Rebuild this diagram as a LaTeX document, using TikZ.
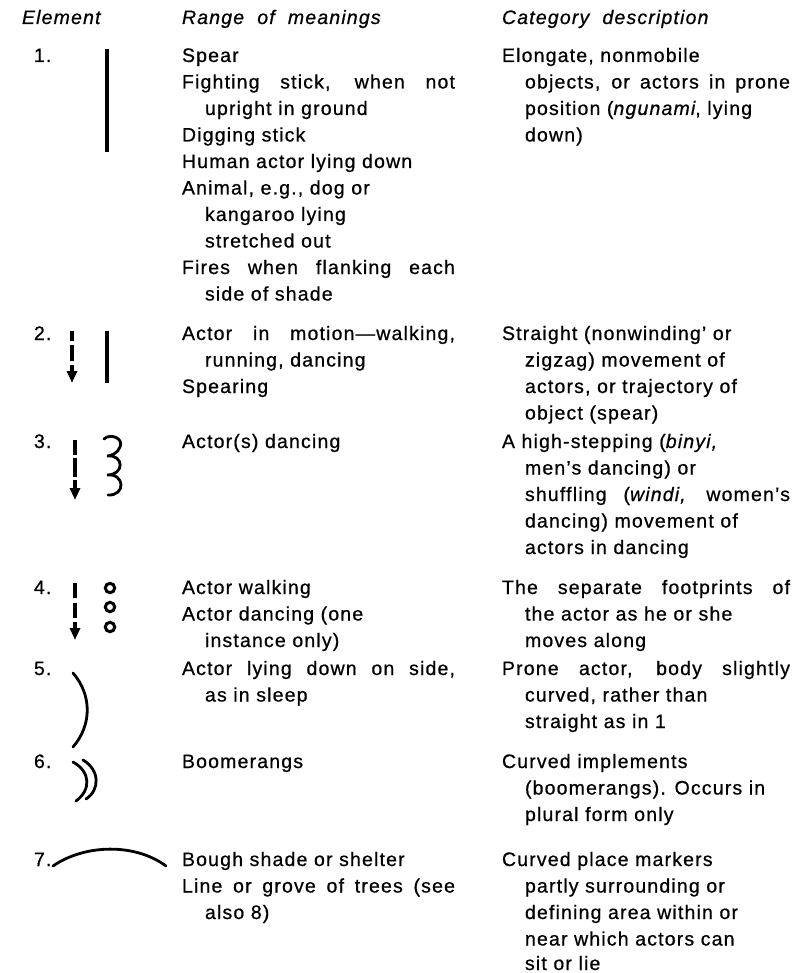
\documentclass[tikz,border=0pt]{standalone}
\usepackage{fontspec}
\setmainfont{Liberation Sans}[LetterSpace=6, FakeBold=0.7]
\usetikzlibrary{arrows.meta}
\newcommand{\justline}[2]{\makebox[#1pt][s]{#2}}
\tikzset{
  txt/.style={anchor=base west, inner sep=0pt, outer sep=0pt, font=\fontsize{19.5}{26.5}\selectfont},
  hdr/.style={txt, font=\fontsize{19.5}{26.5}\selectfont\itshape},
  bar/.style={line width=3.4pt},
  dashar/.style={line width=3.2pt, -{Triangle[width=10pt,length=12pt]}},
  curve/.style={line width=2.8pt, line cap=round},
  ring/.style={circle, draw, line width=3pt, minimum size=9.4pt, inner sep=0pt},
}
\begin{document}
\begin{tikzpicture}[x=1pt,y=-1pt]
\useasboundingbox (0,0) rectangle (805,973);
% headers
\node[hdr] (h1) at (22,24) {Element};
\node[hdr] (h2) at (182,24) {Range \ of \ meanings};
\node[hdr] (h3) at (502,24) {Category \ description};
% numbers
\node[txt] (n1) at (34,62) {1.};
\node[txt] (n2) at (34,340) {2.};
\node[txt] (n3) at (34,448) {3.};
\node[txt] (n4) at (34,594) {4.};
\node[txt] (n5) at (34,675) {5.};
\node[txt] (n6) at (34,768) {6.};
\node[txt] (n7) at (34,866) {7.};
% symbols
\coordinate (b1s) at (107,49); \coordinate (b1e) at (107,152);
\draw[bar] (b1s) -- (b1e);
\coordinate (a2s) at (72,331); \coordinate (a2e) at (72,383);
\draw[dashar, dash pattern=on 10pt off 4pt on 16pt off 4pt] (a2s) -- (a2e);
\coordinate (b2s) at (107,331); \coordinate (b2e) at (107,383);
\draw[bar] (b2s) -- (b2e);
\coordinate (a3s) at (75,440); \coordinate (a3e) at (75,500);
\draw[dashar, dash pattern=on 15pt off 3pt on 19pt off 3pt] (a3s) -- (a3e);
\draw[curve] (104,439) .. controls (110,433) and (124,438) .. (120,447)
  .. controls (118,453) and (111,456) .. (107,456)
  .. controls (124,454) and (125,475) .. (107,475)
  .. controls (125,473) and (126,496) .. (108,495);
\coordinate (a4s) at (75,583); \coordinate (a4e) at (75,640);
\draw[dashar, dash pattern=on 15pt off 5pt on 15pt off 4pt] (a4s) -- (a4e);
\node[ring] (c1) at (110,588) {};
\node[ring] (c2) at (110,607) {};
\node[ring] (c3) at (110,627) {};
\draw[curve] (73,673) .. controls (92,695) and (92,725) .. (73,747);
\draw[curve] (73,762) .. controls (91,772) and (91,790) .. (76,801);
\draw[curve] (83,760) .. controls (100,770) and (100,790) .. (86,799);
\draw[curve] (53,866) .. controls (85,844) and (135,843) .. (166,866);
% row 1
\node[txt] (m1a) at (182,62) {Spear};
\node[txt] (m1b) at (182,88.5) {\justline{273}{Fighting stick, when not}};
\node[txt] (m1c) at (205,115) {upright in ground};
\node[txt] (m1d) at (182,141.5) {Digging stick};
\node[txt] (m1e) at (182,168) {Human actor lying down};
\node[txt] (m1f) at (182,194.5) {Animal, e.g., dog or};
\node[txt] (m1g) at (205,221) {kangaroo lying};
\node[txt] (m1h) at (205,247.5) {stretched out};
\node[txt] (m1i) at (182,274) {\justline{273}{Fires when flanking each}};
\node[txt] (m1j) at (205,300.5) {side of shade};
\node[txt] (d1a) at (502,62) {Elongate, nonmobile};
\node[txt] (d1b) at (525,88.5) {\justline{265}{objects, or actors in prone}};
\node[txt] (d1c) at (525,115) {position (\textit{ngunami}, lying};
\node[txt] (d1d) at (525,141.5) {down)};
% row 2
\node[txt] (m2a) at (182,340) {\justline{273}{Actor in motion\textemdash walking,}};
\node[txt] (m2b) at (205,366.5) {running, dancing};
\node[txt] (m2c) at (182,393) {Spearing};
\node[txt] (d2a) at (502,340) {Straight (nonwinding' or};
\node[txt] (d2b) at (525,366.5) {zigzag) movement of};
\node[txt] (d2c) at (525,393) {actors, or trajectory of};
\node[txt] (d2d) at (525,419.5) {object (spear)};
% row 3
\node[txt] (m3a) at (182,448) {Actor(s) dancing};
\node[txt] (d3a) at (502,448) {A high-stepping (\textit{binyi,}};
\node[txt] (d3b) at (525,474.5) {men’s dancing) or};
\node[txt] (d3c) at (525,501) {\justline{265}{shuffling (\textit{windi,} women’s}};
\node[txt] (d3d) at (525,527.5) {dancing) movement of};
\node[txt] (d3e) at (525,554) {actors in dancing};
% row 4
\node[txt] (m4a) at (182,594) {Actor walking};
\node[txt] (m4b) at (182,620.5) {Actor dancing (one};
\node[txt] (m4c) at (205,647) {instance only)};
\node[txt] (d4a) at (502,594) {\justline{288}{The separate footprints of}};
\node[txt] (d4b) at (525,620.5) {the actor as he or she};
\node[txt] (d4c) at (525,647) {moves along};
% row 5
\node[txt] (m5a) at (182,675) {\justline{273}{Actor lying down on side,}};
\node[txt] (m5b) at (205,701.5) {as in sleep};
\node[txt] (d5a) at (502,675) {\justline{288}{Prone actor, body slightly}};
\node[txt] (d5b) at (525,701.5) {curved, rather than};
\node[txt] (d5c) at (525,728) {straight as in 1};
% row 6
\node[txt] (m6a) at (182,768) {Boomerangs};
\node[txt] (d6a) at (502,768) {Curved implements};
\node[txt] (d6b) at (525,794.5) {(boomerangs). Occurs in};
\node[txt] (d6c) at (525,821) {plural form only};
% row 7
\node[txt] (m7a) at (182,866) {Bough shade or shelter};
\node[txt] (m7b) at (182,892.5) {\justline{273}{Line or grove of trees (see}};
\node[txt] (m7c) at (205,919) {also 8)};
\node[txt] (d7a) at (502,866) {Curved place markers};
\node[txt] (d7b) at (525,892.5) {partly surrounding or};
\node[txt] (d7c) at (525,919) {defining area within or};
\node[txt] (d7d) at (525,945.5) {near which actors can};
\node[txt] (d7e) at (525,970) {sit or lie};
\end{tikzpicture}
\end{document}
